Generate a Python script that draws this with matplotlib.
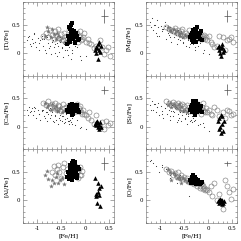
import numpy as np
import matplotlib
matplotlib.use("Agg")
import matplotlib.pyplot as plt
from matplotlib.ticker import MultipleLocator

# metalicidade de cada grupo de estrelas
dots_feh = [-1.22, -1.18, -1.15, -1.12, -1.1, -1.07, -1.04, -1.02, -0.99, -0.96,
            -0.94, -0.91, -0.88, -0.86, -0.83, -0.8, -0.78, -0.76, -0.73, -0.71,
            -0.69, -0.66, -0.64, -0.61, -0.59, -0.57, -0.54, -0.52, -0.49, -0.47,
            -0.44, -0.42, -0.4, -0.37, -0.35, -0.32, -0.3, -0.27, -0.22, -0.12,
            -1.2, -1.13, -1.06, -0.97, -0.9, -0.84, -0.79, -0.74, -0.68, -0.63,
            -0.58, -0.53, -0.48, -0.43, -0.38, -0.33, -0.28, -0.18, -0.08, 0.02]
circ_feh = [-0.88, -0.82, -0.78, -0.74, -0.7, -0.66, -0.63, -0.6, -0.57, -0.54,
            -0.5, -0.47, -0.44, -0.41, -0.38, -0.35, -0.32, -0.29, -0.26, -0.23,
            -0.2, -0.18, -0.15, -0.12, -0.1, -0.07, 0.08, 0.12, 0.18, 0.22,
            0.3, 0.35, 0.4, 0.44, 0.48, 0.52,
            -0.22, -0.17, -0.13, -0.09, -0.05, -0.03, 0.02, 0.05]
star_feh = [-0.85, -0.8, -0.77, -0.72, -0.7, -0.66, -0.62, -0.6, -0.56, -0.52, -0.48, -0.45]
sq_feh = [-0.38, -0.35, -0.33, -0.32, -0.3, -0.29, -0.28, -0.27, -0.26, -0.25,
          -0.24, -0.23, -0.22, -0.2, -0.18, -0.16,
          -0.36, -0.31, -0.27, -0.21, -0.17, -0.14]
tri_feh = [0.2, 0.22, 0.23, 0.25, 0.26, 0.27, 0.28, 0.29, 0.3, 0.32]

nan = np.nan

# Ti
ti_dots = [0.22, 0.3, 0.15, 0.25, 0.18, 0.33, 0.2, 0.1, 0.27, 0.05, 0.22, 0.3, 0.12, 0.24,
           0.0, 0.28, 0.17, 0.08, 0.3, -0.02, 0.2, 0.1, 0.15, 0.25, -0.05, 0.12, 0.02, 0.2,
           0.08, -0.08, 0.15, 0.05, 0.22, -0.03, 0.1, 0.18, -0.1, 0.05, 0.12, -0.05,
           0.28, 0.12, 0.35, 0.18, 0.25, 0.05, 0.32, 0.12, 0.22, 0.0, 0.18, 0.28, 0.1, 0.2,
           0.05, 0.15, 0.0, 0.1, -0.12, -0.05]
ti_circ = [0.3, 0.35, 0.28, 0.4, 0.32, 0.25, 0.38, 0.3, 0.42, 0.27, 0.33, 0.22, 0.36, 0.3,
           0.25, 0.4, 0.28, 0.35, 0.22, 0.3, 0.26, 0.35, 0.2, 0.28, 0.38, 0.24, 0.18, 0.15,
           0.08, 0.12, 0.22, 0.1, -0.02, 0.05, 0.1, -0.05,
           0.32, 0.25, 0.3, 0.22, 0.28, 0.35, 0.2, 0.25]
ti_star = [0.3, 0.45, 0.38, 0.28, 0.42, 0.33, 0.25, 0.36, 0.3, 0.22, 0.27, 0.2]
ti_sq = [0.15, 0.22, 0.45, 0.2, 0.5, 0.35, 0.28, 0.4, 0.32, 0.25, 0.38, 0.3, 0.2, 0.35, 0.28, 0.22,
         0.3, 0.42, 0.52, 0.18, 0.3, 0.25]
ti_tri = [0.05, 0.1, 0.0, 0.08, -0.1, 0.15, 0.05, 0.2, 0.02, 0.12]

# Mg
mg_dots = [0.55, 0.62, 0.4, 0.5, 0.35, 0.58, 0.45, 0.3, 0.48, 0.38, 0.42, 0.55, 0.25, 0.4,
           0.32, 0.46, 0.2, 0.36, 0.42, 0.28, 0.35, 0.15, 0.4, 0.3, 0.22, 0.38, 0.26, 0.18,
           0.34, 0.12, 0.3, 0.24, 0.1, 0.28, 0.2, 0.16, 0.22, 0.05, 0.12, 0.0,
           0.45, 0.5, 0.3, 0.42, 0.48, 0.35, 0.28, 0.4, 0.32, 0.25, 0.36, 0.2, 0.3, 0.22,
           0.15, 0.25, 0.1, 0.18, 0.05, -0.02]
mg_circ = [0.45, 0.42, 0.4, 0.38, 0.44, 0.35, 0.4, 0.33, 0.38, 0.42, 0.3, 0.36, 0.32, 0.4,
           0.28, 0.35, 0.3, 0.26, 0.33, 0.28, 0.3, 0.25, 0.32, 0.27, 0.3, 0.24, 0.15, 0.1,
           0.12, 0.3, 0.28, 0.05, 0.22, 0.25, 0.28, 0.2,
           0.38, 0.3, 0.25, 0.32, 0.28, 0.22, 0.3, 0.2]
mg_star = [0.45, 0.4, 0.38, 0.42, 0.35, 0.38, 0.33, 0.3, 0.36, 0.28, 0.32, 0.3]
mg_sq = [0.28, 0.35, 0.22, 0.4, 0.3, 0.25, 0.42, 0.33, 0.2, 0.38, 0.28, 0.45, 0.35, 0.3, 0.25, 0.38,
         0.32, 0.2, 0.4, 0.28, 0.35, 0.22]
mg_tri = [0.1, 0.05, 0.12, 0.0, 0.08, -0.05, 0.15, 0.1, 0.02, 0.06]

# Ca
ca_dots = [0.3, 0.35, 0.25, 0.32, 0.2, 0.28, 0.33, 0.15, 0.3, 0.22, 0.12, 0.27, 0.3, 0.18,
           0.25, 0.1, 0.22, 0.3, 0.15, 0.2, 0.26, 0.08, 0.18, 0.12, 0.25, 0.05, 0.15, 0.2,
           0.1, 0.18, 0.06, 0.14, 0.22, 0.1, 0.05, 0.12, 0.08, 0.15, 0.02, -0.02,
           0.2, 0.28, 0.35, 0.22, 0.3, 0.15, 0.25, 0.32, 0.1, 0.2, 0.28, 0.12, 0.18, 0.08,
           0.15, 0.1, 0.05, 0.12, 0.0, -0.05]
ca_circ = [0.42, 0.38, 0.45, 0.35, 0.4, 0.33, 0.42, 0.3, 0.38, 0.36, 0.28, 0.4, 0.32, 0.35,
           0.3, 0.38, 0.27, 0.34, 0.3, 0.25, 0.33, 0.4, 0.28, 0.36, 0.3, 0.22, 0.25, 0.12,
           0.05, 0.2, 0.0, 0.08, -0.05, 0.1, 0.03, 0.06,
           0.35, 0.28, 0.32, 0.25, 0.3, 0.22, 0.2, 0.15]
ca_star = [0.42, 0.35, 0.38, 0.3, 0.4, 0.33, 0.36, 0.3, 0.28, 0.32, 0.25, 0.27]
ca_sq = [0.3, 0.35, 0.28, 0.38, 0.32, 0.25, 0.4, 0.3, 0.35, 0.22, 0.38, 0.3, 0.33, 0.28, 0.36, 0.3,
         0.25, 0.35, 0.2, 0.3, 0.38, 0.25]
ca_tri = [0.05, 0.08, 0.02, 0.1, 0.0, 0.06, -0.05, 0.03, 0.08, 0.0]

# Si
si_dots = [0.38, 0.45, 0.3, 0.4, 0.25, 0.35, 0.42, 0.2, 0.36, 0.28, 0.15, 0.32, 0.4, 0.22,
           0.3, 0.12, 0.27, 0.38, 0.18, 0.25, 0.33, 0.08, 0.22, 0.16, 0.3, 0.1, 0.2, 0.26,
           0.14, 0.22, 0.05, 0.18, 0.28, 0.12, 0.08, 0.15, 0.1, 0.2, 0.02, 0.06,
           0.3, 0.4, 0.35, 0.22, 0.32, 0.45, 0.18, 0.28, 0.35, 0.12, 0.25, 0.3, 0.15, 0.22,
           0.1, 0.18, 0.12, 0.05, 0.0, -0.08]
si_circ = [0.45, 0.42, 0.38, 0.44, 0.4, 0.35, 0.42, 0.38, 0.33, 0.4, 0.36, 0.3, 0.38, 0.34,
           0.28, 0.36, 0.3, 0.25, 0.32, 0.28, 0.35, 0.3, 0.22, 0.3, 0.42, 0.26, 0.2, 0.35,
           0.3, 0.18, 0.25, 0.15, 0.3, 0.28, 0.2, 0.22,
           0.4, 0.3, 0.35, 0.28, 0.32, 0.25, 0.3, 0.22]
si_star = [0.38, 0.42, 0.35, 0.4, 0.36, 0.32, 0.4, 0.3, 0.35, 0.28, 0.3, 0.26]
si_sq = [0.3, 0.25, 0.38, 0.32, 0.28, 0.42, 0.35, 0.2, 0.3, 0.45, 0.38, 0.25, 0.4, 0.33, 0.28, 0.36,
         0.35, 0.45, 0.22, 0.4, 0.3, 0.26]
si_tri = [0.1, -0.05, 0.15, 0.0, 0.2, -0.12, 0.05, 0.18, -0.08, 0.1]

# Al (sem os pontinhos)
al_dots = [nan] * 60
al_circ = [nan, nan, nan, nan, 0.5, 0.6, 0.45, 0.55, 0.62, 0.5, 0.4, 0.58, 0.65, 0.48,
           0.55, 0.42, 0.6, 0.5, 0.45, 0.62, 0.55, 0.48, 0.4, 0.58, 0.45, 0.52,
           nan, nan, nan, nan, nan, nan, nan, nan, nan, nan,
           0.6, 0.5, 0.55, 0.45, nan, nan, nan, nan]
al_star = [0.45, 0.52, 0.38, 0.25, 0.35, 0.3, 0.42, 0.48, 0.3, 0.35, 0.4, 0.28]
al_sq = [0.42, 0.48, 0.38, 0.55, 0.45, 0.6, 0.5, 0.65, 0.42, 0.7, 0.55, 0.48, 0.6, 0.52, 0.45, 0.58,
         0.5, 0.62, 0.35, 0.68, 0.4, 0.55]
al_tri = [0.4, 0.12, 0.08, -0.05, 0.15, 0.3, 0.1, 0.22, -0.1, 0.25]

# O
o_dots = [0.7, nan, 0.65, nan, 0.6, nan, nan, 0.5, nan, 0.62, nan, nan, 0.55, nan,
          nan, 0.45, nan, nan, 0.48, nan, nan, 0.3, nan, nan, 0.45, nan, nan, nan,
          nan, nan, nan, nan, 0.08, nan, nan, nan, nan, nan, nan, nan,
          0.72, nan, nan, 0.58, nan, nan, 0.4, nan, nan, nan, nan, nan, nan, nan,
          nan, nan, nan, nan, nan, nan]
o_circ = [0.55, 0.5, 0.52, 0.45, 0.48, 0.42, 0.5, 0.4, 0.45, 0.38, 0.42, 0.35, 0.4, 0.33,
          0.36, 0.3, 0.35, 0.28, 0.3, 0.25, 0.3, 0.22, 0.28, 0.2, 0.25, 0.18, 0.08, 0.3,
          0.0, 0.12, -0.15, 0.35, 0.25, 0.15, 0.02, 0.2,
          0.3, 0.25, 0.28, 0.22, 0.2, 0.18, 0.15, 0.25]
o_star = [0.55, 0.5, 0.35, 0.48, 0.45, 0.4, 0.42, 0.38, 0.3, 0.4, 0.35, 0.32]
o_sq = [0.35, 0.4, 0.42, 0.32, 0.38, 0.3, 0.42, 0.35, 0.28, 0.38, 0.33, 0.3, 0.36, 0.28, 0.32, 0.3,
        0.3, 0.45, 0.38, 0.35, 0.28, 0.33]
o_tri = [-0.02, 0.0, -0.05, 0.02, -0.03, 0.0, -0.06, 0.01, -0.04, -0.02]

labels = ["[Ti/Fe]", "[Mg/Fe]", "[Ca/Fe]", "[Si/Fe]", "[Al/Fe]", "[O/Fe]"]
paineis = [
    (ti_dots, ti_circ, ti_star, ti_sq, ti_tri),
    (mg_dots, mg_circ, mg_star, mg_sq, mg_tri),
    (ca_dots, ca_circ, ca_star, ca_sq, ca_tri),
    (si_dots, si_circ, si_star, si_sq, si_tri),
    (al_dots, al_circ, al_star, al_sq, al_tri),
    (o_dots, o_circ, o_star, o_sq, o_tri),
]
# barra de erro tipica em cada painel
err_y = [0.12, 0.1, 0.07, 0.1, 0.12, 0.05]
err_x = 0.07

plt.rcParams["font.family"] = "DejaVu Serif"

fig = plt.figure(figsize=(2.41, 2.41), dpi=100)

W = 241.0
col_x = [23 / W, 146 / W]
larg = 91 / W
alt = 73.7 / W
base = 1 - 223 / W

for i, (dots, circ, star, sq, tri) in enumerate(paineis):
    linha = i // 2
    coluna = i % 2
    ax = fig.add_axes([col_x[coluna], base + (2 - linha) * alt, larg, alt])

    ax.plot(dots_feh, dots, ".", color="0.2", markersize=1.6, markeredgewidth=0)
    ax.plot(circ_feh, circ, "o", mfc="none", mec="0.5", markersize=3.6, markeredgewidth=0.45)
    ax.plot(star_feh, star, "*", color="0.45", markersize=3.0, markeredgewidth=0.2)
    ax.plot(sq_feh, sq, "s", color="black", markersize=3.0, markeredgewidth=0)
    ax.plot(tri_feh, tri, "^", color="black", markersize=3.3, markeredgewidth=0)

    ax.errorbar([0.4], [0.65], xerr=err_x, yerr=err_y[i], color="0.3",
                elinewidth=0.5, capsize=0)

    ax.set_xlim(-1.3, 0.6)
    ax.set_ylim(-0.4, 0.9)
    ax.xaxis.set_major_locator(MultipleLocator(0.5))
    ax.xaxis.set_minor_locator(MultipleLocator(0.1))
    ax.yaxis.set_major_locator(MultipleLocator(0.5))
    ax.yaxis.set_minor_locator(MultipleLocator(0.1))
    ax.tick_params(which="both", direction="in", top=True, right=True,
                   labelsize=4, pad=2, width=0.4, color="0.4")
    ax.tick_params(which="major", length=3)
    ax.tick_params(which="minor", length=1.5)
    ax.set_yticks([0, 0.5])
    ax.set_yticklabels(["0", "0.5"])
    for s in ax.spines.values():
        s.set_linewidth(0.4)
        s.set_color("0.4")

    ax.set_ylabel(labels[i], fontsize=4.5)
    ax.yaxis.set_label_coords(-0.16, 0.5)

    if linha == 2:
        ax.set_xticks([-1, -0.5, 0, 0.5])
        ax.set_xticklabels(["-1", "-0.5", "0", "0.5"])
        ax.set_xlabel("[Fe/H]", fontsize=4.5, labelpad=1.5)
    else:
        ax.tick_params(labelbottom=False)

fig.savefig("out.png", dpi=100)
